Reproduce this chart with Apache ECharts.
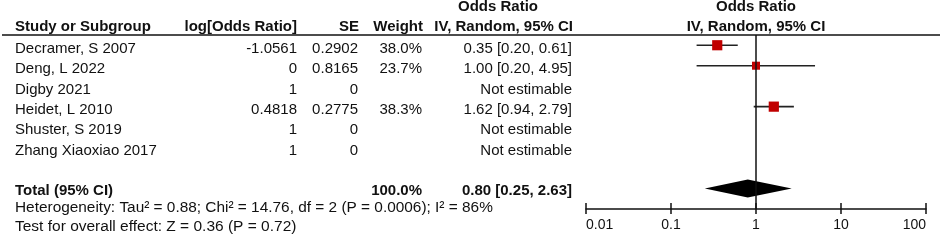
<!DOCTYPE html>
<html>
<head>
<meta charset="utf-8">
<title>Forest plot</title>
<script src="https://cdn.jsdelivr.net/npm/echarts@6/dist/echarts.min.js"></script>
<style>
    html, body { margin: 0; padding: 0; background: #fff; }
    #forest { width: 941px; height: 243px; }
</style>
</head>
<body>
<div id="forest"></div>
<script>
    // study rows
    var studies = ['Decramer, S 2007', 'Deng, L 2022', 'Digby 2021', 'Heidet, L 2010', 'Shuster, S 2019', 'Zhang Xiaoxiao 2017'];
    var logOR = [-1.0561, 0, 1, 0.4818, 1, 1];
    var se = [0.2902, 0.8165, 0, 0.2775, 0, 0];
    var weight = [38.0, 23.7, null, 38.3, null, null];
    var oddsRatio = [0.35, 1.00, null, 1.62, null, null];
    var ciLow = [0.20, 0.20, null, 0.94, null, null];
    var ciHigh = [0.61, 4.95, null, 2.79, null, null];

    // pooled estimate
    var totalLabel = 'Total (95% CI)';
    var totalWeight = 100.0;
    var totalOR = 0.80;
    var totalLow = 0.25;
    var totalHigh = 2.63;
    var totalRow = 7;

    var heterogeneity = 'Heterogeneity: Tau\u00b2 = 0.88; Chi\u00b2 = 14.76, df = 2 (P = 0.0006); I\u00b2 = 86%';
    var overallEffect = 'Test for overall effect: Z = 0.36 (P = 0.72)';

    // x axis ticks
    var tickValues = [0.01, 0.1, 1, 10, 100];
    var tickLabels = ['0.01', '0.1', '1', '10', '100'];

    var FONT = '"Liberation Sans", Arial, sans-serif';
    var TXT = '#111';

    function fmtCI(o, l, h) {
        if (o === null) return 'Not estimable';
        return o.toFixed(2) + ' [' + l.toFixed(2) + ', ' + h.toFixed(2) + ']';
    }

    var rowData = studies.map(function (s, i) { return [1, i]; });
    rowData.push([1, totalRow]);

    var dom = document.getElementById('forest');
    var myChart = echarts.init(dom, null, {renderer: 'canvas'});

    function txt(x, y, s, align, bold, size) {
        return {
            type: 'text', x: x, y: y,
            style: {
                text: s, fill: TXT, align: align, verticalAlign: 'middle',
                font: (bold ? 'bold ' : '') + (size || 15) + 'px ' + FONT
            }
        };
    }

    var option = {
        animation: false,
        grid: {left: 586, right: 15, top: 35, bottom: 34, outerBoundsMode: 'none'},
        xAxis: [{
            type: 'log', logBase: 10, min: 0.01, max: 100, splitNumber: 4,
            position: 'bottom',
            axisLine: {onZero: false, lineStyle: {color: '#111', width: 1.5}},
            axisTick: {inside: true, length: 6, lineStyle: {color: '#111', width: 1.5}},
            splitLine: {show: false},
            axisLabel: {
                margin: 9, color: TXT, fontSize: 14, fontFamily: FONT,
                alignMinLabel: 'left', alignMaxLabel: 'right',
                formatter: function (v) {
                    for (var i = 0; i < tickValues.length; i++) {
                        if (Math.abs(Math.log10(v / tickValues[i])) < 1e-6) return tickLabels[i];
                    }
                    return '';
                }
            }
        }, {
            // lower half of the crossing ticks
            type: 'log', logBase: 10, min: 0.01, max: 100, splitNumber: 4,
            position: 'top', offset: -174,
            axisLine: {show: false, onZero: false},
            axisTick: {inside: true, length: 5, lineStyle: {color: '#111', width: 1.5}},
            axisLabel: {show: false},
            splitLine: {show: false}
        }],
        yAxis: {type: 'value', inverse: true, min: -0.5, max: 8, show: false},
        graphic: [
            {type: 'line', shape: {x1: 2, y1: 35, x2: 940, y2: 35}, style: {stroke: '#111', lineWidth: 1.5}},
            txt(15, 27, 'Study or Subgroup', 'left', true),
            txt(297, 27, 'log[Odds Ratio]', 'right', true),
            txt(359, 27, 'SE', 'right', true),
            txt(423, 27, 'Weight', 'right', true),
            txt(498, 7, 'Odds Ratio', 'center', true),
            txt(573, 27, 'IV, Random, 95% CI', 'right', true),
            txt(756, 7, 'Odds Ratio', 'center', true),
            txt(756, 27, 'IV, Random, 95% CI', 'center', true),
            txt(15, 208, heterogeneity, 'left', false, 15.4),
            txt(15, 227, overallEffect, 'left', false, 15.5)
        ],
        series: [
            {
                // line of no effect
                type: 'line', xAxisIndex: 0, symbol: 'none', silent: true,
                lineStyle: {color: '#111', width: 1.5},
                data: [[1, -0.5], [1, 8]]
            },
            {
                // table text
                type: 'custom', xAxisIndex: 0, silent: true, clip: false,
                data: rowData,
                renderItem: function (params, api) {
                    var i = params.dataIndex;
                    var y = api.coord([1, api.value(1)])[1] + 3.2;
                    if (i >= studies.length) {
                        y -= 1;
                        return {type: 'group', children: [
                            txt(15, y, totalLabel, 'left', true),
                            txt(422, y, totalWeight.toFixed(1) + '%', 'right', true),
                            txt(572, y, fmtCI(totalOR, totalLow, totalHigh), 'right', true)
                        ]};
                    }
                    return {type: 'group', children: [
                        txt(15, y, studies[i], 'left', false),
                        txt(297, y, String(logOR[i]), 'right', false),
                        txt(358, y, String(se[i]), 'right', false),
                        txt(422, y, weight[i] === null ? '' : weight[i].toFixed(1) + '%', 'right', false),
                        txt(572, y, fmtCI(oddsRatio[i], ciLow[i], ciHigh[i]), 'right', false)
                    ]};
                }
            },
            {
                // whiskers, squares and pooled diamond
                type: 'custom', xAxisIndex: 0, silent: true, clip: false,
                data: rowData,
                renderItem: function (params, api) {
                    var i = params.dataIndex;
                    var row = api.value(1);
                    if (i >= studies.length) {
                        var l = api.coord([totalLow, row]);
                        var c = api.coord([totalOR, row]);
                        var h = api.coord([totalHigh, row]);
                        return {
                            type: 'polygon',
                            shape: {points: [[l[0], l[1]], [c[0], c[1] - 9], [h[0], h[1]], [c[0], c[1] + 9]]},
                            style: {fill: '#000'}
                        };
                    }
                    if (oddsRatio[i] === null) return null;
                    var p0 = api.coord([ciLow[i], row]);
                    var p1 = api.coord([ciHigh[i], row]);
                    var pc = api.coord([oddsRatio[i], row]);
                    var sz = 1.65 * Math.sqrt(weight[i]);
                    return {type: 'group', children: [
                        {type: 'line', shape: {x1: p0[0], y1: p0[1], x2: p1[0], y2: p1[1]},
                         style: {stroke: '#222', lineWidth: 1.6}},
                        {type: 'rect', shape: {x: pc[0] - sz / 2, y: pc[1] - sz / 2, width: sz, height: sz},
                         style: {fill: '#c00000'}}
                    ]};
                }
            }
        ]
    };

    if (option && typeof option === 'object') {
        myChart.setOption(option, true);
    }
</script>
</body>
</html>
